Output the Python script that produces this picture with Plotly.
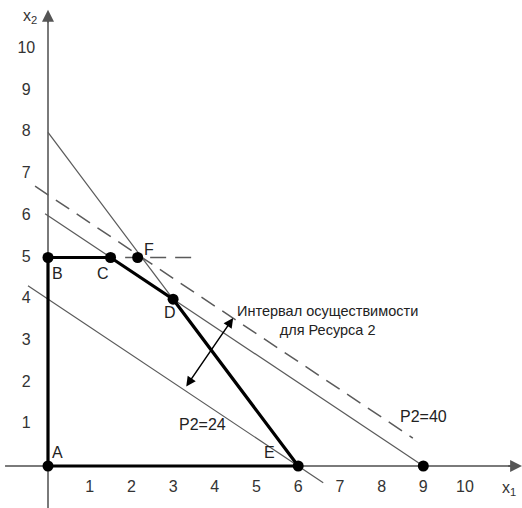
import plotly.graph_objects as go

# ---- data ----
x_ticks = [1, 2, 3, 4, 5, 6, 7, 8, 9, 10]
y_ticks = [1, 2, 3, 4, 5, 6, 7, 8, 9, 10]

region_x = [0, 0, 1.5, 3, 6, 0]
region_y = [0, 5, 5, 4, 0, 0]

pt_names = ["A", "B", "C", "D", "E", "F", ""]
pt_x = [0, 0, 1.5, 3, 6, 2.15, 9]
pt_y = [0, 5, 5, 4, 0, 5, 0]

res1_x = [0, 3]          # line through (0,8) and D
res1_y = [8, 4]
res2_x = [-0.07, 9]      # line through (0,6), C, D, (9,0)
res2_y = [6.05, 0]
p24_x = [-0.48, 6.6]     # P2=24
p24_y = [4.32, -0.4]
p40_x = [-0.31, 8.75]    # P2=40 (dashed)
p40_y = [6.71, 0.67]
hdash_x = [1.85, 3.55]   # dashed horizontal y=5
hdash_y = [5, 5]

arrow_from = (3.29, 1.87)
arrow_to = (4.44, 3.55)

U = 41.7
X0, Y0 = 48, 466
W, H = 522, 508
xr = [-X0 / U, (W - X0) / U]
yr = [(Y0 - H) / U, Y0 / U]

FONT = "Liberation Sans, Arial, sans-serif"
GRAY = "#7a7a7a"
THIN = "#5a5a5a"
TXT = "#333"

fig = go.Figure()

# axes
fig.add_trace(go.Scatter(x=[-1.03, 11.2], y=[0, 0], mode="lines",
                         line=dict(color=GRAY, width=2), hoverinfo="skip"))
fig.add_trace(go.Scatter(x=[0, 0], y=[yr[0], 10.8], mode="lines",
                         line=dict(color=GRAY, width=2), hoverinfo="skip"))

# thin constraint lines
for lx, ly in [(res1_x, res1_y), (res2_x, res2_y), (p24_x, p24_y)]:
    fig.add_trace(go.Scatter(x=lx, y=ly, mode="lines",
                             line=dict(color=THIN, width=1.2), hoverinfo="skip"))
# dashed lines
for lx, ly in [(p40_x, p40_y), (hdash_x, hdash_y)]:
    fig.add_trace(go.Scatter(x=lx, y=ly, mode="lines",
                             line=dict(color=THIN, width=1.5, dash="16px,9px"),
                             hoverinfo="skip"))

# feasible region
fig.add_trace(go.Scatter(x=region_x, y=region_y, mode="lines",
                         line=dict(color="black", width=3.2), hoverinfo="skip"))

# points
fig.add_trace(go.Scatter(x=pt_x, y=pt_y, mode="markers",
                         marker=dict(color="black", size=11), hoverinfo="skip"))

# tick labels
fig.add_trace(go.Scatter(x=x_ticks, y=[-0.53] * len(x_ticks), mode="text",
                         text=[str(t) for t in x_ticks],
                         textfont=dict(family=FONT, size=16, color=TXT),
                         hoverinfo="skip"))
fig.add_trace(go.Scatter(x=[-0.52] * len(y_ticks), y=y_ticks, mode="text",
                         text=[str(t) for t in y_ticks],
                         textfont=dict(family=FONT, size=16, color=TXT),
                         hoverinfo="skip"))

# point labels
lab_off = {"A": (0.22, 0.33), "B": (0.22, -0.38), "C": (-0.18, -0.38),
           "D": (-0.08, -0.33), "E": (-0.7, 0.33), "F": (0.27, 0.18)}
for n, px, py in zip(pt_names, pt_x, pt_y):
    if n:
        dx, dy = lab_off[n]
        fig.add_annotation(x=px + dx, y=py + dy, text=n, showarrow=False,
                           font=dict(family=FONT, size=16, color="#222"))

# line labels
fig.add_annotation(x=3.7, y=1.0, text="P2=24", showarrow=False,
                   font=dict(family=FONT, size=16, color="#222"))
fig.add_annotation(x=9.0, y=1.18, text="P2=40", showarrow=False,
                   font=dict(family=FONT, size=16, color="#222"))
fig.add_annotation(x=6.7, y=3.5, text="Интервал осуществимости<br>для Ресурса 2",
                   showarrow=False, align="center",
                   font=dict(family=FONT, size=14.5, color="#222"))

# double arrow
fig.add_annotation(x=arrow_to[0], y=arrow_to[1], ax=arrow_from[0], ay=arrow_from[1],
                   xref="x", yref="y", axref="x", ayref="y", text="",
                   showarrow=True, arrowhead=2, startarrowhead=2,
                   arrowside="end+start", arrowsize=1.3, startarrowsize=1.3,
                   arrowwidth=1.5, arrowcolor="black")

# axis arrowheads
fig.add_annotation(x=11.37, y=0, ax=11.0, ay=0, xref="x", yref="y", axref="x", ayref="y",
                   text="", showarrow=True, arrowhead=2, arrowsize=1.2,
                   arrowwidth=2, arrowcolor="#555")
fig.add_annotation(x=0, y=10.94, ax=0, ay=10.6, xref="x", yref="y", axref="x", ayref="y",
                   text="", showarrow=True, arrowhead=2, arrowsize=1.2,
                   arrowwidth=2, arrowcolor="#555")

# axis names
fig.add_annotation(x=-0.43, y=10.78, text="x<sub>2</sub>", showarrow=False,
                   borderpad=0, font=dict(family=FONT, size=16, color=TXT))
fig.add_annotation(x=11.05, y=-0.53, text="x<sub>1</sub>", showarrow=False,
                   borderpad=0, font=dict(family=FONT, size=16, color=TXT))

fig.update_layout(
    width=W, height=H, margin=dict(l=0, r=0, t=0, b=0),
    paper_bgcolor="white", plot_bgcolor="white", showlegend=False,
    hovermode=False, dragmode=False,
    xaxis=dict(range=xr, visible=False, fixedrange=True),
    yaxis=dict(range=yr, visible=False, fixedrange=True),
)

fig.write_html("out.html",
               config={"displayModeBar": False, "staticPlot": True},
               post_script="document.body.style.margin='0px';"
                           "document.body.style.overflow='hidden';")
